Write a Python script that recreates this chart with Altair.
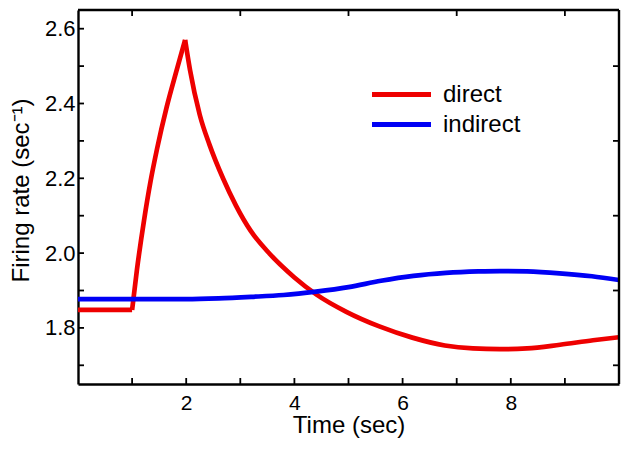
import altair as alt
import pandas as pd

# ---- data ----
direct_t = [0.0, 1.0, 1.09, 1.22, 1.34, 1.46, 1.64, 1.82, 1.98, 2.07, 2.25, 2.43, 2.68,
            2.92, 3.19, 3.5, 4.0, 4.41, 4.96, 5.57, 6.18, 6.78, 7.3, 7.8, 8.3, 8.91, 9.52, 10.0]
direct_rate = [1.848, 1.848, 1.956, 2.087, 2.191, 2.278, 2.391, 2.487, 2.570, 2.490, 2.370,
               2.290, 2.200, 2.127, 2.060, 2.005, 1.935, 1.889, 1.843, 1.804, 1.774, 1.753,
               1.745, 1.743, 1.745, 1.755, 1.767, 1.775]
# piece of the curve each point belongs to (flat / rise / decay); break points are shared
direct_piece = ["flat", "flat", "rise", "rise", "rise", "rise", "rise", "rise", "rise",
                "decay", "decay", "decay", "decay", "decay", "decay", "decay", "decay",
                "decay", "decay", "decay", "decay", "decay", "decay", "decay", "decay",
                "decay", "decay", "decay"]
indirect_t = [0.0, 1.0, 2.0, 2.6, 3.2, 3.8, 4.4, 5.0, 5.6, 6.2, 6.8, 7.4, 7.8, 8.3, 8.9, 9.5, 10.0]
indirect_rate = [1.877, 1.877, 1.877, 1.879, 1.883, 1.888, 1.897, 1.909, 1.926, 1.939, 1.947,
                 1.951, 1.952, 1.951, 1.946, 1.938, 1.928]

series_names = ["direct", "indirect"]
series_colors = ["#ee0000", "#0000f5"]

x_label_values = [2, 4, 6, 8]
y_label_values = [1.8, 2.0, 2.2, 2.4, 2.6]
bottom_tick_values = [1, 2, 3, 4, 5, 6, 7, 8, 9]
top_tick_values = [1, 3, 5, 7, 9]
left_tick_values = [1.7, 1.8, 1.9, 2.0, 2.1, 2.2, 2.3, 2.4, 2.5, 2.6]
right_tick_values = [1.7, 1.9, 2.1, 2.3, 2.5]

W = 541
H = 374
TICK = 6
FONT = "Liberation Sans"

# build rows; the shared break points are repeated so each piece is continuous
rows = []
for i, (t, r, p) in enumerate(zip(direct_t, direct_rate, direct_piece)):
    rows.append({"t": t, "rate": r, "series": "direct", "piece": "direct-" + p})
    if i + 1 < len(direct_piece) and direct_piece[i + 1] != p:
        rows.append({"t": t, "rate": r, "series": "direct",
                     "piece": "direct-" + direct_piece[i + 1]})
for t, r in zip(indirect_t, indirect_rate):
    rows.append({"t": t, "rate": r, "series": "indirect", "piece": "indirect"})
df = pd.DataFrame(rows)

xscale = alt.Scale(domain=[0, 10], nice=False, zero=False)
yscale = alt.Scale(domain=[1.65, 2.65], nice=False, zero=False)

lines = alt.Chart(df).mark_line(strokeWidth=4.7, clip=True, interpolate="monotone").encode(
    x=alt.X("t:Q", scale=xscale, title="Time (sec)",
            axis=alt.Axis(values=x_label_values, ticks=False, tickSize=0, domain=True,
                          domainColor="black", domainWidth=2.4,
                          grid=False, labelFontSize=21, labelFont=FONT, labelColor="black",
                          labelPadding=8, titleFontSize=24, titleFont=FONT,
                          titleFontWeight="normal", titleColor="black",
                          titleBaseline="alphabetic", titleY=48)),
    y=alt.Y("rate:Q", scale=yscale, title="Firing rate (sec\u207b\u00b9)",
            axis=alt.Axis(values=y_label_values, format=".1f", ticks=False, tickSize=0,
                          domain=True, domainColor="black", domainWidth=2.4,
                          grid=False, labelFontSize=22, labelFont=FONT,
                          labelColor="black", labelPadding=3, titleFontSize=24,
                          titleFont=FONT, titleFontWeight="normal", titleColor="black",
                          titleAngle=-90, titleAlign="center", titleBaseline="alphabetic",
                          titleX=-50, titleY=180)),
    color=alt.Color("series:N",
                    scale=alt.Scale(domain=series_names, range=series_colors),
                    legend=alt.Legend(orient="none", legendX=306, legendY=67, title=None,
                                      symbolType="M-2,0L2,0", symbolSize=870,
                                      symbolStrokeWidth=5, labelFontSize=24, labelFont=FONT,
                                      labelColor="black", rowPadding=0, labelOffset=24)),
    detail="piece:N",
)

frame_src = pd.DataFrame({"frame": [0]})
top_edge = alt.Chart(frame_src).mark_rule(color="black", strokeWidth=2.4).encode(
    x=alt.value(0), x2=alt.value(W), y=alt.value(0))
right_edge = alt.Chart(frame_src).mark_rule(color="black", strokeWidth=2.4).encode(
    x=alt.value(W), y=alt.value(0), y2=alt.value(H))

bottom_ticks = alt.Chart(pd.DataFrame({"t": bottom_tick_values})).mark_rule(
    color="black", strokeWidth=1.8).encode(
    x=alt.X("t:Q", scale=xscale), y=alt.value(H), y2=alt.value(H - TICK))
top_ticks = alt.Chart(pd.DataFrame({"t": top_tick_values})).mark_rule(
    color="black", strokeWidth=1.8).encode(
    x=alt.X("t:Q", scale=xscale), y=alt.value(0), y2=alt.value(TICK))
left_ticks = alt.Chart(pd.DataFrame({"rate": left_tick_values})).mark_rule(
    color="black", strokeWidth=1.8).encode(
    y=alt.Y("rate:Q", scale=yscale), x=alt.value(0), x2=alt.value(TICK))
right_ticks = alt.Chart(pd.DataFrame({"rate": right_tick_values})).mark_rule(
    color="black", strokeWidth=1.8).encode(
    y=alt.Y("rate:Q", scale=yscale), x=alt.value(W), x2=alt.value(W - TICK))

chart = alt.layer(lines, top_edge, right_edge, bottom_ticks, top_ticks, left_ticks,
                  right_ticks).properties(
    width=W, height=H,
    background="white",
    autosize=alt.AutoSizeParams(type="none"),
    padding={"left": 70, "top": 2, "right": 3, "bottom": 55},
).configure_view(stroke="transparent", strokeWidth=0)

chart.save("out.html", embed_options={"renderer": "svg", "actions": False})
